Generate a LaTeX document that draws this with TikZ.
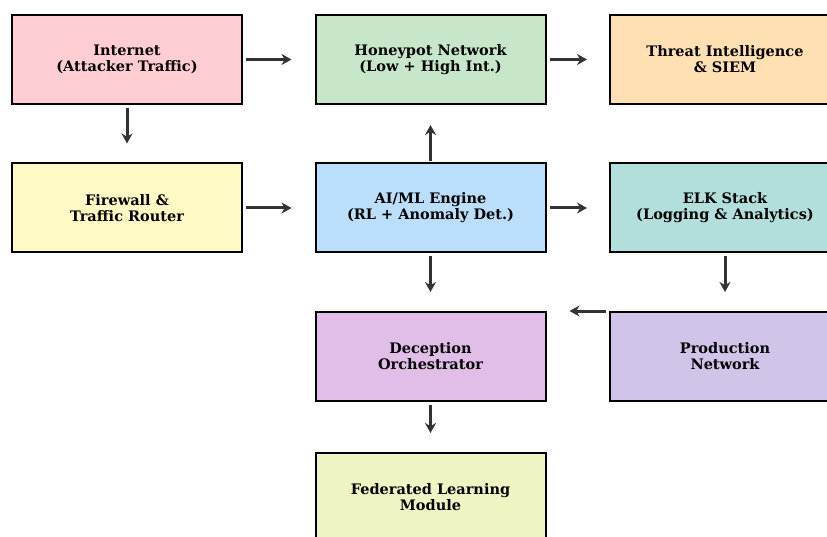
\documentclass[tikz,border=0pt]{standalone}
\usepackage{fontspec}
\setmainfont{DejaVu Serif}
\usetikzlibrary{positioning, arrows.meta}
\definecolor{inetpink}{HTML}{FFCDD2}
\definecolor{honeygreen}{HTML}{C8E6C9}
\definecolor{threatorange}{HTML}{FFE0B2}
\definecolor{fwyellow}{HTML}{FFF9C4}
\definecolor{aiblue}{HTML}{BBDEFB}
\definecolor{elkteal}{HTML}{B2DFDB}
\definecolor{decpurple}{HTML}{E1BEE7}
\definecolor{prodlilac}{HTML}{D1C4E9}
\definecolor{fedlime}{HTML}{F0F4C3}
\definecolor{arrowgray}{HTML}{333333}
\tikzset{
block/.style={draw=black, line width=2pt, minimum width=230pt, minimum height=89pt, align=center, font=\bfseries\fontsize{14.5}{16}\selectfont}, % every box of the diagram
flow/.style={draw=arrowgray, line width=3pt, -{Stealth[length=10pt, width=11pt]}}, % arrows, kept off the boxes
gap/.style={shorten <=3pt, shorten >=#1}, % free space at both ends of an arrow
}

\begin{document}
\begin{tikzpicture}[x=1pt, y=-1pt, node distance=148.5pt, on grid]
    \useasboundingbox (0,0) rectangle (827,537);
    \node[block, fill=inetpink] (inet) at (127,59.5) {Internet\\(Attacker Traffic)};
    \node[block, fill=honeygreen, right=303.5pt of inet] (honey) {Honeypot Network\\(Low + High Int.)};
    \node[block, fill=threatorange, right=294.5pt of honey] (threat) {Threat Intelligence\\\& SIEM};
    \node[block, fill=fwyellow, below=of inet] (fw) {Firewall \&\\Traffic Router};
    \node[block, fill=aiblue, below=of honey] (ai) {AI/ML Engine\\(RL + Anomaly Det.)};
    \node[block, fill=elkteal, below=of threat] (elk) {ELK Stack\\(Logging \& Analytics)};
    \node[block, fill=decpurple, below=of ai] (dec) {Deception\\Orchestrator};
    \node[block, fill=prodlilac, below=of elk] (prod) {Production\\Network};
    \node[block, fill=fedlime, below=141pt of dec] (fed) {Federated Learning\\Module};

    \draw[flow, gap=23pt] (inet) -- (honey);
    \draw[flow, gap=22pt] (honey) -- (threat);
    \draw[flow, gap=19pt] (inet) -- (fw);

    \draw[flow, gap=23pt] (fw) -- (ai);
    \draw[flow, gap=20pt, shorten <=1pt] (ai) -- (honey);
    \draw[flow, gap=22pt] (ai) -- (elk);

    \draw[flow, gap=19pt] (ai) -- (dec);
    \draw[flow, gap=19pt] (elk) -- (prod);
    \draw[flow, gap=23pt] (prod.north west) -- (dec.north east);
    \draw[flow, gap=19pt] (dec) -- (fed);
  \end{tikzpicture}
\end{document}
